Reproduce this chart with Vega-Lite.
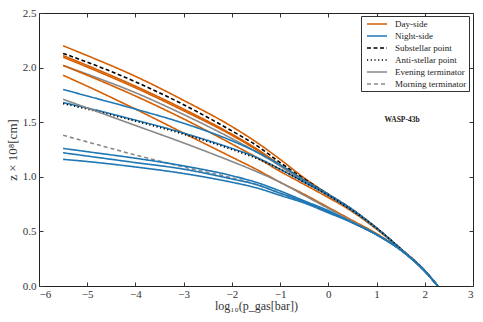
{
  "$schema": "https://vega.github.io/schema/vega-lite/v6.json",
  "width": 434,
  "height": 273,
  "autosize": {"type": "none"},
  "padding": {"left": 39, "top": 13, "right": 10, "bottom": 36},
  "background": "white",
  "config": {
    "view": {"stroke": "#222", "strokeWidth": 1},
    "axis": {
      "grid": false, "domain": false, "tickColor": "#333", "tickSize": 4, "offset": -4,
      "labelFont": "Liberation Serif", "labelFontSize": 11, "labelColor": "#333",
      "titleFont": "Liberation Serif", "titleFontSize": 12, "titleFontWeight": "normal", "titleColor": "#333"
    }
  },
  "datasets": {
    "series": [
      {"s": 1, "k": "Day-side"}, {"s": 2, "k": "Substellar point"}, {"s": 3, "k": "Day-side"},
      {"s": 4, "k": "Day-side"}, {"s": 5, "k": "Evening terminator"}, {"s": 6, "k": "Day-side"},
      {"s": 7, "k": "Day-side"}, {"s": 8, "k": "Night-side"}, {"s": 9, "k": "Night-side"},
      {"s": 10, "k": "Anti-stellar point"}, {"s": 11, "k": "Evening terminator"}, {"s": 12, "k": "Morning terminator"},
      {"s": 13, "k": "Night-side"}, {"s": 14, "k": "Night-side"}, {"s": 15, "k": "Night-side"}
    ],
    "pts": [
      {"s":1,"x":-5.5,"y":2.2},{"s":1,"x":-5,"y":2.11},{"s":1,"x":-4,"y":1.92},{"s":1,"x":-3,"y":1.7},{"s":1,"x":-2,"y":1.46},{"s":1,"x":-1.5,"y":1.32},{"s":1,"x":-1,"y":1.16},{"s":1,"x":-0.5,"y":0.99},{"s":1,"x":0,"y":0.84},{"s":1,"x":0.5,"y":0.7},{"s":1,"x":1,"y":0.53},{"s":1,"x":1.5,"y":0.34},{"s":1,"x":2,"y":0.14},{"s":1,"x":2.27,"y":0},
      {"s":2,"x":-5.5,"y":2.13},{"s":2,"x":-5,"y":2.05},{"s":2,"x":-4,"y":1.87},{"s":2,"x":-3,"y":1.66},{"s":2,"x":-2,"y":1.42},{"s":2,"x":-1.5,"y":1.29},{"s":2,"x":-1,"y":1.13},{"s":2,"x":-0.5,"y":0.98},{"s":2,"x":0,"y":0.84},{"s":2,"x":0.5,"y":0.7},{"s":2,"x":1,"y":0.53},{"s":2,"x":1.5,"y":0.34},{"s":2,"x":2,"y":0.14},{"s":2,"x":2.27,"y":0},
      {"s":3,"x":-5.5,"y":2.11},{"s":3,"x":-5,"y":2.02},{"s":3,"x":-4,"y":1.83},{"s":3,"x":-3,"y":1.62},{"s":3,"x":-2,"y":1.39},{"s":3,"x":-1.5,"y":1.26},{"s":3,"x":-1,"y":1.11},{"s":3,"x":-0.5,"y":0.97},{"s":3,"x":0,"y":0.83},{"s":3,"x":0.5,"y":0.69},{"s":3,"x":1,"y":0.53},{"s":3,"x":1.5,"y":0.34},{"s":3,"x":2,"y":0.14},{"s":3,"x":2.27,"y":0},
      {"s":4,"x":-5.5,"y":2.095},{"s":4,"x":-5,"y":2.005},{"s":4,"x":-4,"y":1.815},{"s":4,"x":-3,"y":1.605},{"s":4,"x":-2,"y":1.38},{"s":4,"x":-1.5,"y":1.25},{"s":4,"x":-1,"y":1.1},{"s":4,"x":-0.5,"y":0.96},{"s":4,"x":0,"y":0.83},{"s":4,"x":0.5,"y":0.69},{"s":4,"x":1,"y":0.53},{"s":4,"x":1.5,"y":0.34},{"s":4,"x":2,"y":0.14},{"s":4,"x":2.27,"y":0},
      {"s":5,"x":-5.5,"y":2.02},{"s":5,"x":-5,"y":1.94},{"s":5,"x":-4,"y":1.77},{"s":5,"x":-3,"y":1.57},{"s":5,"x":-2,"y":1.35},{"s":5,"x":-1.5,"y":1.23},{"s":5,"x":-1,"y":1.1},{"s":5,"x":-0.5,"y":0.96},{"s":5,"x":0,"y":0.83},{"s":5,"x":0.5,"y":0.69},{"s":5,"x":1,"y":0.53},{"s":5,"x":1.5,"y":0.34},{"s":5,"x":2,"y":0.14},{"s":5,"x":2.27,"y":0},
      {"s":6,"x":-5.5,"y":2.02},{"s":6,"x":-5,"y":1.93},{"s":6,"x":-4,"y":1.74},{"s":6,"x":-3,"y":1.53},{"s":6,"x":-2,"y":1.3},{"s":6,"x":-1.5,"y":1.18},{"s":6,"x":-1,"y":1.05},{"s":6,"x":-0.5,"y":0.93},{"s":6,"x":0,"y":0.81},{"s":6,"x":0.5,"y":0.68},{"s":6,"x":1,"y":0.52},{"s":6,"x":1.5,"y":0.34},{"s":6,"x":2,"y":0.14},{"s":6,"x":2.27,"y":0},
      {"s":7,"x":-5.5,"y":1.93},{"s":7,"x":-5,"y":1.83},{"s":7,"x":-4,"y":1.62},{"s":7,"x":-3,"y":1.4},{"s":7,"x":-2,"y":1.18},{"s":7,"x":-1.5,"y":1.07},{"s":7,"x":-1,"y":0.95},{"s":7,"x":-0.5,"y":0.84},{"s":7,"x":0,"y":0.72},{"s":7,"x":0.5,"y":0.6},{"s":7,"x":1,"y":0.48},{"s":7,"x":1.5,"y":0.33},{"s":7,"x":2,"y":0.135},{"s":7,"x":2.27,"y":0},
      {"s":8,"x":-5.5,"y":1.8},{"s":8,"x":-5,"y":1.74},{"s":8,"x":-4,"y":1.62},{"s":8,"x":-3,"y":1.49},{"s":8,"x":-2,"y":1.33},{"s":8,"x":-1.5,"y":1.23},{"s":8,"x":-1,"y":1.11},{"s":8,"x":-0.5,"y":0.97},{"s":8,"x":0,"y":0.84},{"s":8,"x":0.5,"y":0.7},{"s":8,"x":1,"y":0.53},{"s":8,"x":1.5,"y":0.34},{"s":8,"x":2,"y":0.14},{"s":8,"x":2.27,"y":0},
      {"s":9,"x":-5.5,"y":1.68},{"s":9,"x":-5,"y":1.63},{"s":9,"x":-4,"y":1.52},{"s":9,"x":-3,"y":1.4},{"s":9,"x":-2,"y":1.26},{"s":9,"x":-1.5,"y":1.18},{"s":9,"x":-1,"y":1.07},{"s":9,"x":-0.5,"y":0.95},{"s":9,"x":0,"y":0.83},{"s":9,"x":0.5,"y":0.69},{"s":9,"x":1,"y":0.53},{"s":9,"x":1.5,"y":0.34},{"s":9,"x":2,"y":0.14},{"s":9,"x":2.27,"y":0},
      {"s":10,"x":-5.5,"y":1.67},{"s":10,"x":-5,"y":1.62},{"s":10,"x":-4,"y":1.51},{"s":10,"x":-3,"y":1.39},{"s":10,"x":-2,"y":1.25},{"s":10,"x":-1.5,"y":1.17},{"s":10,"x":-1,"y":1.07},{"s":10,"x":-0.5,"y":0.95},{"s":10,"x":0,"y":0.83},{"s":10,"x":0.5,"y":0.69},{"s":10,"x":1,"y":0.53},{"s":10,"x":1.5,"y":0.34},{"s":10,"x":2,"y":0.14},{"s":10,"x":2.27,"y":0},
      {"s":11,"x":-5.5,"y":1.71},{"s":11,"x":-5,"y":1.63},{"s":11,"x":-4,"y":1.47},{"s":11,"x":-3,"y":1.31},{"s":11,"x":-2,"y":1.14},{"s":11,"x":-1.5,"y":1.05},{"s":11,"x":-1,"y":0.95},{"s":11,"x":-0.5,"y":0.83},{"s":11,"x":0,"y":0.71},{"s":11,"x":0.5,"y":0.59},{"s":11,"x":1,"y":0.47},{"s":11,"x":1.5,"y":0.33},{"s":11,"x":2,"y":0.135},{"s":11,"x":2.27,"y":0},
      {"s":12,"x":-5.5,"y":1.38},{"s":12,"x":-5,"y":1.32},{"s":12,"x":-4,"y":1.2},{"s":12,"x":-3,"y":1.09},{"s":12,"x":-2,"y":0.99},{"s":12,"x":-1.5,"y":0.93},{"s":12,"x":-1,"y":0.85},{"s":12,"x":-0.5,"y":0.77},{"s":12,"x":0,"y":0.68},{"s":12,"x":0.5,"y":0.58},{"s":12,"x":1,"y":0.47},{"s":12,"x":1.5,"y":0.33},{"s":12,"x":2,"y":0.135},{"s":12,"x":2.27,"y":0},
      {"s":13,"x":-5.5,"y":1.26},{"s":13,"x":-5,"y":1.23},{"s":13,"x":-4,"y":1.17},{"s":13,"x":-3,"y":1.1},{"s":13,"x":-2,"y":1.01},{"s":13,"x":-1.5,"y":0.95},{"s":13,"x":-1,"y":0.87},{"s":13,"x":-0.5,"y":0.78},{"s":13,"x":0,"y":0.69},{"s":13,"x":0.5,"y":0.58},{"s":13,"x":1,"y":0.47},{"s":13,"x":1.5,"y":0.33},{"s":13,"x":2,"y":0.135},{"s":13,"x":2.27,"y":0},
      {"s":14,"x":-5.5,"y":1.22},{"s":14,"x":-5,"y":1.19},{"s":14,"x":-4,"y":1.13},{"s":14,"x":-3,"y":1.07},{"s":14,"x":-2,"y":0.98},{"s":14,"x":-1.5,"y":0.93},{"s":14,"x":-1,"y":0.85},{"s":14,"x":-0.5,"y":0.77},{"s":14,"x":0,"y":0.68},{"s":14,"x":0.5,"y":0.58},{"s":14,"x":1,"y":0.47},{"s":14,"x":1.5,"y":0.33},{"s":14,"x":2,"y":0.135},{"s":14,"x":2.27,"y":0},
      {"s":15,"x":-5.5,"y":1.16},{"s":15,"x":-5,"y":1.14},{"s":15,"x":-4,"y":1.09},{"s":15,"x":-3,"y":1.03},{"s":15,"x":-2,"y":0.95},{"s":15,"x":-1.5,"y":0.9},{"s":15,"x":-1,"y":0.83},{"s":15,"x":-0.5,"y":0.76},{"s":15,"x":0,"y":0.67},{"s":15,"x":0.5,"y":0.58},{"s":15,"x":1,"y":0.47},{"s":15,"x":1.5,"y":0.33},{"s":15,"x":2,"y":0.135},{"s":15,"x":2.27,"y":0}
    ],
    "note": [{"x": 1.53, "y": 1.52, "t": "WASP-43b"}]
  },
  "layer": [
    {
      "data": {"name": "pts"},
      "transform": [{"lookup": "s", "from": {"data": {"name": "series"}, "key": "s", "fields": ["k"]}}],
      "mark": {"type": "line", "interpolate": "monotone", "clip": true},
      "encoding": {
        "x": {"field": "x", "type": "quantitative", "scale": {"domain": [-6, 3], "nice": false, "zero": false},
              "axis": {"orient": "bottom", "values": [-6,-5,-4,-3,-2,-1,0,1,2,3], "labelExpr": "replace(datum.label, '-', '−')", "labelPadding": 2, "title": "log₁₀(p_gas[bar])", "titlePadding": 1}},
        "y": {"field": "y", "type": "quantitative", "scale": {"domain": [0, 2.5], "nice": false, "zero": false},
              "axis": {"orient": "left", "values": [0,0.5,1,1.5,2,2.5], "format": ".1f", "labelPadding": 3, "title": "z × 10⁸[cm]", "titlePadding": 3, "titleFontSize": 13}},
        "detail": {"field": "s"},
        "order": {"field": "x", "type": "quantitative"},
        "color": {"field": "k", "type": "nominal",
                  "scale": {"domain": ["Day-side", "Night-side", "Substellar point", "Anti-stellar point", "Evening terminator", "Morning terminator"],
                            "range": ["#d55e00", "#1f77b4", "#000000", "#000000", "#888888", "#888888"]},
                  "legend": {"title": null, "orient": "none", "legendX": 322, "legendY": 3,
                             "strokeColor": "#333", "fillColor": "white", "padding": 2, "cornerRadius": 0,
                             "symbolType": "M-2,0H2", "symbolSize": 100, "symbolStrokeWidth": 2, "symbolOffset": 8,
                             "labelOffset": 12, "labelFont": "Liberation Serif", "labelFontSize": 9, "labelColor": "#222", "rowPadding": 1}},
        "strokeDash": {"field": "k", "type": "nominal",
                  "scale": {"domain": ["Day-side", "Night-side", "Substellar point", "Anti-stellar point", "Evening terminator", "Morning terminator"],
                            "range": [[1,0], [1,0], [4,2.5], [1.2,2.5], [1,0], [4,3]]},
                  "legend": {"title": null, "orient": "none", "legendX": 322, "legendY": 3}},
        "strokeWidth": {"field": "k", "type": "nominal", "legend": null,
                  "scale": {"domain": ["Day-side", "Night-side", "Substellar point", "Anti-stellar point", "Evening terminator", "Morning terminator"],
                            "range": [1.6, 1.6, 2, 2, 1.6, 1.6]}}
      }
    },
    {
      "data": {"name": "note"},
      "mark": {"type": "text", "font": "Liberation Serif", "fontSize": 7.5, "fontWeight": "bold", "color": "#222"},
      "encoding": {
        "x": {"field": "x", "type": "quantitative", "axis": {"orient": "top", "values": [-6,-5,-4,-3,-2,-1,0,1,2,3], "labels": false, "title": null}},
        "y": {"field": "y", "type": "quantitative", "axis": {"orient": "right", "values": [0,0.5,1,1.5,2,2.5], "labels": false, "title": null}},
        "text": {"field": "t"}
      }
    }
  ],
  "resolve": {"axis": {"x": "independent", "y": "independent"}}
}
